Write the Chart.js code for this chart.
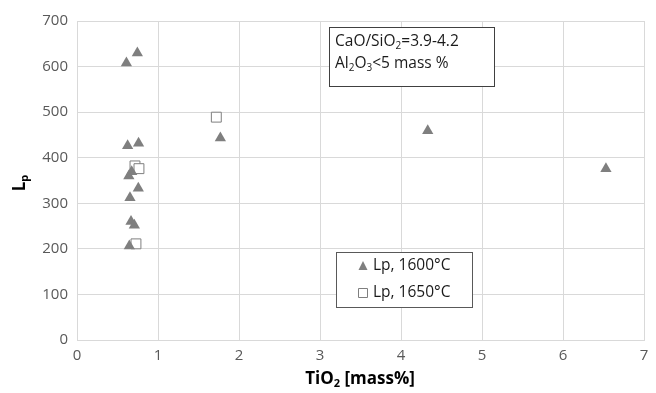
<!DOCTYPE html>
<html>
<head>
<meta charset="utf-8">
<script src="https://cdn.jsdelivr.net/npm/chart.js@4.4.0/dist/chart.umd.min.js"></script>
<style>
  html, body { margin: 0; padding: 0; background: #fff; }
  #wrap { width: 656px; height: 393px; position: relative; }
</style>
</head>
<body>
<div id="wrap"><canvas id="c"></canvas></div>
<script>
// Lp at 1600°C
var tio2_1600 = [0.61, 0.745, 0.625, 0.76, 1.77, 0.675, 0.64, 0.757, 0.654, 0.667, 0.708, 0.646, 4.33, 6.53];
var lp_1600   = [608, 630, 426, 432, 443, 369, 360, 333, 312, 260, 252, 206, 459, 376];
// Lp at 1650°C
var tio2_1650 = [1.72, 0.716, 0.765, 0.728];
var lp_1650   = [489, 382, 376, 211];

var xTicks = [0, 1, 2, 3, 4, 5, 6, 7];
var yTicks = [0, 100, 200, 300, 400, 500, 600, 700];

var FONT = '"Open Sans", "Liberation Sans", sans-serif';
var GREY = '#7f7f7f';

function pts(xs, ys) {
    return xs.map(function(x, i) { return {x: x, y: ys[i]}; });
}

// draws a line of text with subscripts: parts = [[text, isSub], ...]
function richText(ctx, parts, x, y, size, weight, color, align) {
    var sub = Math.round(size * 0.65);
    var w = 0;
    parts.forEach(function(p) {
        ctx.font = weight + ' ' + (p[1] ? sub : size) + 'px ' + FONT;
        w += ctx.measureText(p[0]).width;
    });
    var cx = align === 'center' ? x - w / 2 : x;
    ctx.fillStyle = color;
    ctx.textBaseline = 'middle';
    ctx.textAlign = 'left';
    parts.forEach(function(p) {
        ctx.font = weight + ' ' + (p[1] ? sub : size) + 'px ' + FONT;
        ctx.fillText(p[0], cx, p[1] ? y + size * 0.3 : y);
        cx += ctx.measureText(p[0]).width;
    });
}

var boxes = {
    id: 'boxes',
    afterDraw: function(chart) {
        var ctx = chart.ctx;
        ctx.save();
        // axis titles
        richText(ctx, [['TiO', false], ['2', true], [' [mass%]', false]], 360, 379, 17, 'bold', '#000', 'center');
        ctx.save();
        ctx.translate(20, 183);
        ctx.rotate(-Math.PI / 2);
        richText(ctx, [['L', false], ['p', true]], 0, 0, 17, 'bold', '#000', 'center');
        ctx.restore();

        // annotation box
        ctx.fillStyle = '#fff';
        ctx.fillRect(329.5, 27.5, 165, 59);
        ctx.strokeStyle = '#404040';
        ctx.lineWidth = 1;
        ctx.strokeRect(329.5, 27.5, 165, 59);
        richText(ctx, [['CaO/SiO', false], ['2', true], ['=3.9-4.2', false]], 335, 42, 15.5, 'normal', '#1a1a1a', 'left');
        richText(ctx, [['Al', false], ['2', true], ['O', false], ['3', true], ['<5 mass %', false]], 335, 64, 15.5, 'normal', '#1a1a1a', 'left');

        // legend box
        ctx.fillStyle = '#fff';
        ctx.fillRect(336.5, 252.5, 136, 55);
        ctx.strokeStyle = '#595959';
        ctx.strokeRect(336.5, 252.5, 136, 55);
        var ds = chart.data.datasets;
        var rows = [266, 293];
        ds.forEach(function(d, i) {
            ctx.fillStyle = d.backgroundColor;
            ctx.strokeStyle = d.borderColor;
            ctx.beginPath();
            if (i === 0) {
                ctx.moveTo(363, rows[i] - 5);
                ctx.lineTo(367.5, rows[i] + 4);
                ctx.lineTo(358.5, rows[i] + 4);
                ctx.closePath();
                ctx.fill();
            } else {
                ctx.rect(358.5, rows[i] - 4.5, 9, 9);
                ctx.fill();
                ctx.stroke();
            }
            richText(ctx, [[d.label, false]], 373, rows[i], 15.5, 'normal', '#1a1a1a', 'left');
        });
        ctx.restore();
    }
};

new Chart(document.getElementById('c'), {
    type: 'scatter',
    data: {
        datasets: [{
            label: 'Lp, 1600°C',
            data: pts(tio2_1600, lp_1600),
            pointStyle: 'triangle',
            radius: 6.5,
            backgroundColor: GREY,
            borderColor: GREY,
            borderWidth: 0
        }, {
            label: 'Lp, 1650°C',
            data: pts(tio2_1650, lp_1650),
            pointStyle: 'rect',
            radius: 7,
            backgroundColor: '#fff',
            borderColor: GREY,
            borderWidth: 1
        }]
    },
    options: {
        responsive: true,
        maintainAspectRatio: false,
        animation: false,
        layout: { padding: { top: 21, right: 12, left: 0, bottom: 0 } },
        scales: {
            x: {
                min: 0,
                max: 7,
                afterFit: function(s) { s.height = 53; },
                afterBuildTicks: function(s) { s.ticks = xTicks.map(function(v) { return {value: v}; }); },
                grid: { color: '#d9d9d9', drawTicks: false },
                border: { color: '#d9d9d9' },
                ticks: { padding: 7, color: '#595959', font: { family: FONT, size: 15 } }
            },
            y: {
                min: 0,
                max: 700,
                afterFit: function(s) { s.width = 77; },
                afterBuildTicks: function(s) { s.ticks = yTicks.map(function(v) { return {value: v}; }); },
                grid: { color: '#d9d9d9', drawTicks: false },
                border: { color: '#d9d9d9' },
                ticks: { padding: 9, color: '#595959', font: { family: FONT, size: 15 } }
            }
        },
        plugins: {
            legend: { display: false },
            tooltip: { enabled: false }
        }
    },
    plugins: [boxes]
});
</script>
</body>
</html>
